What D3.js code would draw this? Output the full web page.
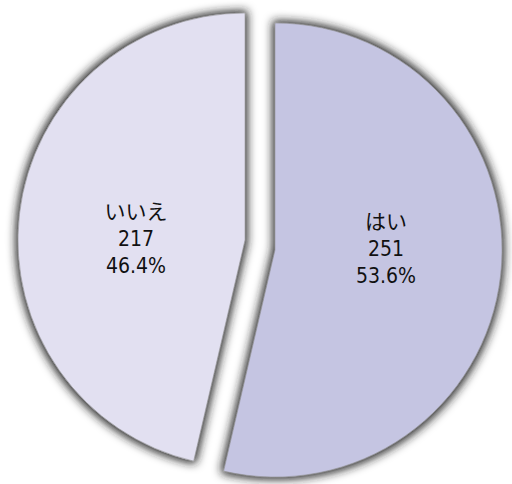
<!DOCTYPE html>
<html>
<head>
<meta charset="utf-8">
<script src="https://cdn.jsdelivr.net/npm/d3@7"></script>
<style>
  body { margin: 0; background: #fff; }
  .lbl { font-family: "DejaVu Sans Condensed", "Noto Sans CJK JP", sans-serif; font-size: 21px; fill: #111; }
  .lbl.jp { font-family: "Noto Sans CJK JP", sans-serif; font-size: 21px; }
</style>
</head>
<body>
<div id="chart"></div>
<script>
// data
const categories = ['はい', 'いいえ'];
const counts = [251, 217];
const percents = ['53.6%', '46.4%'];
const colors = ['#c5c5e2', '#e2e0f1'];

const width = 512, height = 484;
const cx = 260, cy = 245;
const radius = 227;

let svg = d3.select('#chart').append('svg')
    .attr('width', width)
    .attr('height', height);

// soft gray glow around each slice
let defs = svg.append('defs');
let f = defs.append('filter')
    .attr('id', 'glow')
    .attr('x', '-20%').attr('y', '-20%')
    .attr('width', '140%').attr('height', '140%');
f.append('feMorphology').attr('in', 'SourceAlpha').attr('operator', 'dilate').attr('radius', 2).attr('result', 'dil');
f.append('feGaussianBlur').attr('in', 'dil').attr('stdDeviation', 5).attr('result', 'blur');
f.append('feFlood').attr('flood-color', '#1e1e1e').attr('flood-opacity', 1).attr('result', 'col');
f.append('feComposite').attr('in', 'col').attr('in2', 'blur').attr('operator', 'in').attr('result', 'shadow');
let m = f.append('feMerge');
m.append('feMergeNode').attr('in', 'shadow');
m.append('feMergeNode').attr('in', 'SourceGraphic');

let pie = d3.pie().sort(null).value(d => d);
let arcs = pie(counts);

let arc = d3.arc().innerRadius(0).outerRadius(radius);

// explode: right slice goes right/down, left slice goes left/up
function offset(d) {
    let mid = (d.startAngle + d.endAngle) / 2;
    let s = Math.sin(mid) >= 0 ? 1 : -1;
    return [s * 15, s * 5];
}

let g = svg.selectAll('g.slice')
    .data(arcs)
    .enter()
    .append('g')
    .attr('class', 'slice')
    .attr('transform', d => {
        let o = offset(d);
        return 'translate(' + (cx + o[0]) + ',' + (cy + o[1]) + ')';
    });

g.append('path')
    .attr('d', arc)
    .attr('fill', (d, i) => colors[i])
    .attr('stroke', '#8a8a8a')
    .attr('stroke-width', 0.5)
    .attr('filter', 'url(#glow)');

// labels, one text per line
g.each(function(d, i) {
    let mid = (d.startAngle + d.endAngle) / 2;
    let s = Math.sin(mid) >= 0 ? 1 : -1;
    let lx = s * 111 + (s < 0 ? 2 : 0);
    let lines = [categories[i], counts[i], percents[i]];
    lines.forEach((ln, k) => {
        d3.select(this).append('text')
            .attr('class', k == 0 ? 'lbl jp' : 'lbl')
            .attr('text-anchor', 'middle')
            .attr('x', lx)
            .attr('y', -21 + k * 27)
            .text(ln);
    });
});
</script>
</body>
</html>
